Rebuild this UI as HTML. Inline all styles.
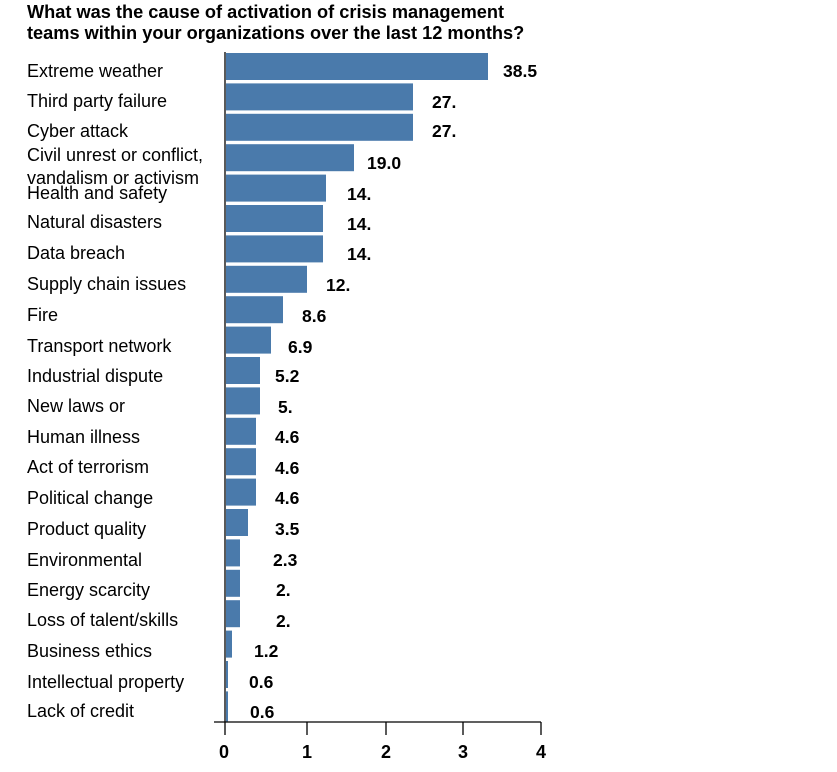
<!DOCTYPE html>
<html><head><meta charset="utf-8"><style>
html,body{margin:0;padding:0;background:#fff;}
svg{display:block;font-family:"Liberation Sans",Arial,sans-serif;}
.c{font-size:18px;fill:#000;}
.v{font-size:17.5px;font-weight:bold;fill:#000;}
</style></head><body>
<svg width="837" height="772" xmlns="http://www.w3.org/2000/svg">
<text x="27" y="18" font-size="18.2" font-weight="bold">What was the cause of activation of crisis management</text>
<text x="27" y="39" font-size="18.2" font-weight="bold">teams within your organizations over the last 12 months?</text>
<g fill="#4a7aab">
<rect x="226" y="53" width="262" height="27"/>
<rect x="226" y="83.4" width="187" height="27"/>
<rect x="226" y="113.8" width="187" height="27"/>
<rect x="226" y="144.2" width="128" height="27"/>
<rect x="226" y="174.6" width="100" height="27"/>
<rect x="226" y="205" width="97" height="27"/>
<rect x="226" y="235.4" width="97" height="27"/>
<rect x="226" y="265.8" width="81" height="27"/>
<rect x="226" y="296.2" width="57" height="27"/>
<rect x="226" y="326.6" width="45" height="27"/>
<rect x="226" y="357" width="34" height="27"/>
<rect x="226" y="387.4" width="34" height="27"/>
<rect x="226" y="417.8" width="30" height="27"/>
<rect x="226" y="448.2" width="30" height="27"/>
<rect x="226" y="478.6" width="30" height="27"/>
<rect x="226" y="509" width="22" height="27"/>
<rect x="226" y="539.4" width="14" height="27"/>
<rect x="226" y="569.8" width="14" height="27"/>
<rect x="226" y="600.2" width="14" height="27"/>
<rect x="226" y="630.6" width="6" height="27"/>
<rect x="226" y="661" width="2" height="27"/>
<rect x="226" y="691.4" width="2" height="30"/>
</g>
<g stroke="#000" stroke-width="1.3">
<line x1="225" y1="52" x2="225" y2="735"/>
<line x1="214" y1="722" x2="541" y2="722"/>
<line x1="307" y1="722" x2="307" y2="735"/>
<line x1="386" y1="722" x2="386" y2="735"/>
<line x1="463" y1="722" x2="463" y2="735"/>
<line x1="541" y1="722" x2="541" y2="735"/>
</g>
<g font-size="18" font-weight="bold" text-anchor="middle">
<text x="224" y="758">0</text><text x="307" y="758">1</text><text x="386" y="758">2</text><text x="463" y="758">3</text><text x="541" y="758">4</text>
</g>
<g class="c">
<text x="27" y="77">Extreme weather</text>
<text x="27" y="107">Third party failure</text>
<text x="27" y="137">Cyber attack</text>
<text x="27" y="161">Civil unrest or conflict,</text>
<text x="27" y="184">vandalism or activism</text>
<text x="27" y="199">Health and safety</text>
<text x="27" y="228">Natural disasters</text>
<text x="27" y="259">Data breach</text>
<text x="27" y="290">Supply chain issues</text>
<text x="27" y="321">Fire</text>
<text x="27" y="352">Transport network</text>
<text x="27" y="382">Industrial dispute</text>
<text x="27" y="412">New laws or</text>
<text x="27" y="443">Human illness</text>
<text x="27" y="473">Act of terrorism</text>
<text x="27" y="504">Political change</text>
<text x="27" y="535">Product quality</text>
<text x="27" y="566">Environmental</text>
<text x="27" y="596">Energy scarcity</text>
<text x="27" y="626">Loss of talent/skills</text>
<text x="27" y="657">Business ethics</text>
<text x="27" y="688">Intellectual property</text>
<text x="27" y="717">Lack of credit</text>
</g>
<g class="v">
<text x="503" y="77">38.5</text>
<text x="432" y="108">27.</text>
<text x="432" y="137">27.</text>
<text x="367" y="169">19.0</text>
<text x="347" y="200">14.</text>
<text x="347" y="230">14.</text>
<text x="347" y="260">14.</text>
<text x="326" y="291">12.</text>
<text x="302" y="322">8.6</text>
<text x="288" y="353">6.9</text>
<text x="275" y="382">5.2</text>
<text x="278" y="413">5.</text>
<text x="275" y="443">4.6</text>
<text x="275" y="474">4.6</text>
<text x="275" y="504">4.6</text>
<text x="275" y="535">3.5</text>
<text x="273" y="566">2.3</text>
<text x="276" y="596">2.</text>
<text x="276" y="627">2.</text>
<text x="254" y="657">1.2</text>
<text x="249" y="688">0.6</text>
<text x="250" y="718">0.6</text>
</g>
</svg>
</body></html>
